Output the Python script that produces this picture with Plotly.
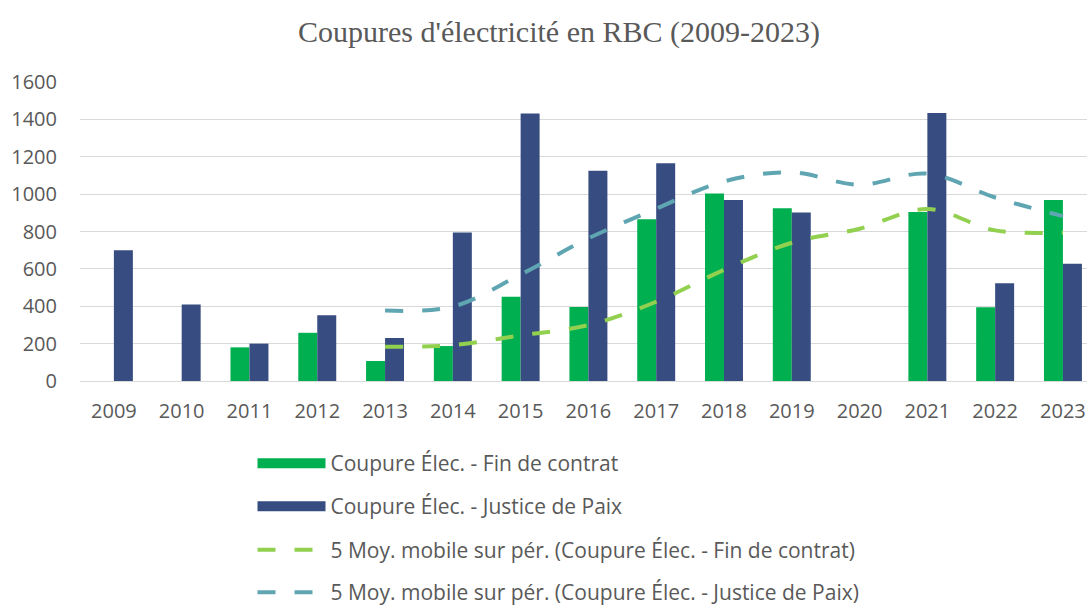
import plotly.graph_objects as go

years = [str(y) for y in range(2009, 2024)]
fin_contrat = [None, None, 180, 258, 107, 187, 451, 396, 865, 1004, 924, None, 904, 394, 968]
justice_paix = [700, 410, 200, 352, 230, 795, 1432, 1125, 1165, 968, 902, None, 1434, 523, 628]

ma_years = [str(y) for y in range(2013, 2024)]
ma_fin = [183, 192, 244, 299, 424, 595, 740, 815, 920, 806, 795]
ma_justice = [377, 398, 570, 763, 922, 1068, 1116, 1050, 1110, 982, 882]

y_ticks = [0, 200, 400, 600, 800, 1000, 1200, 1400, 1600]

name_fin = "Coupure Élec. - Fin de contrat"
name_jp = "Coupure Élec. - Justice de Paix"
name_ma_fin = "5 Moy. mobile sur pér. (Coupure Élec. - Fin de contrat)"
name_ma_jp = "5 Moy. mobile sur pér. (Coupure Élec. - Justice de Paix)"

GREEN = "#00B050"
BLUE = "#374C80"
LGREEN = "#92D050"
TEAL = "#5FA6B2"
TXT = "#595959"
FONT = "Open Sans"

fig = go.Figure()
fig.add_trace(go.Bar(x=years, y=fin_contrat, name=name_fin, marker_color=GREEN,
                     marker_line_width=0, showlegend=False))
fig.add_trace(go.Bar(x=years, y=justice_paix, name=name_jp, marker_color=BLUE,
                     marker_line_width=0, showlegend=False))
fig.add_trace(go.Scatter(x=ma_years, y=ma_fin, name=name_ma_fin, mode="lines",
                         line=dict(color=LGREEN, width=4, dash="18px,19px", shape="spline"),
                         showlegend=False))
fig.add_trace(go.Scatter(x=ma_years, y=ma_justice, name=name_ma_jp, mode="lines",
                         line=dict(color=TEAL, width=4, dash="18px,19px", shape="spline"),
                         showlegend=False))

# legend entries
leg_specs = [
    (name_fin, dict(color=GREEN, width=13), "legend"),
    (name_jp, dict(color=BLUE, width=13), "legend2"),
    (name_ma_fin, dict(color=LGREEN, width=4, dash="18px,19px"), "legend3"),
    (name_ma_jp, dict(color=TEAL, width=4, dash="18px,19px"), "legend4"),
]
for nm, ln, lg in leg_specs:
    fig.add_trace(go.Scatter(x=[None], y=[None], mode="lines", name=nm, line=ln,
                             legend=lg, showlegend=True, hoverinfo="skip"))

row_y = [463.5, 506.5, 550, 592.5]
legend_common = dict(xref="container", yref="container", xanchor="left", yanchor="middle",
                     font=dict(family=FONT, size=21, color=TXT), itemwidth=68,
                     bgcolor="rgba(0,0,0,0)", borderwidth=0)
legends = {}
for i, key in enumerate(["legend", "legend2", "legend3", "legend4"]):
    legends[key] = dict(legend_common, x=252.5 / 1087, y=1 - row_y[i] / 606)

fig.update_layout(
    template="none",
    width=1087, height=606,
    margin=dict(l=80, r=0, t=82, b=225, autoexpand=False),
    paper_bgcolor="white", plot_bgcolor="white",
    barmode="group", bargap=0.44, bargroupgap=0,
    title=dict(text="Coupures d'électricité en RBC (2009-2023)", x=559 / 1087, xanchor="center",
               y=1 - 31 / 606, yanchor="middle", yref="container",
               font=dict(family="Liberation Serif", size=30, color=TXT)),
    xaxis=dict(type="category", range=[-0.5, 14.355], showgrid=False, zeroline=False,
               showline=False, ticks="outside", ticklen=12, tickcolor="rgba(0,0,0,0)",
               tickangle=0, automargin=False,
               tickfont=dict(family=FONT, size=20, color=TXT)),
    yaxis=dict(range=[0, 1600], tickvals=y_ticks, showgrid=True, gridcolor="#D9D9D9",
               gridwidth=1.3, zeroline=True, zerolinecolor="#D9D9D9", zerolinewidth=1.3,
               showline=False, ticks="outside", ticklen=18, tickcolor="rgba(0,0,0,0)",
               automargin=False,
               tickfont=dict(family=FONT, size=20, color=TXT)),
    hovermode=False,
    **legends,
)

fig.write_html("out.html")
